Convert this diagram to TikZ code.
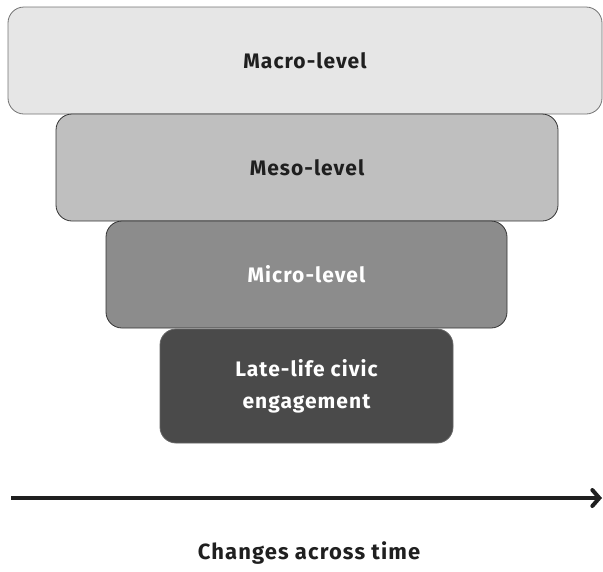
\documentclass[tikz,border=0pt]{standalone}
\usepackage{fontspec}
\setmainfont{Fira Sans}[LetterSpace=5]
\usepackage{xcolor}
\usetikzlibrary{positioning,arrows.meta}

\definecolor{macrofill}{HTML}{E6E6E6}
\definecolor{mesofill}{HTML}{BFBFBF}
\definecolor{microfill}{HTML}{8C8C8C}
\definecolor{latefill}{HTML}{4A4A4A}

\begin{document}
\begin{tikzpicture}[
  x=1pt, y=-1pt,
  level/.style={rectangle, rounded corners=16pt, draw=black!80, line width=0.8pt,
    font=\bfseries\fontsize{21}{32}\selectfont, align=center, inner sep=0pt},
]
\useasboundingbox (0,0) rectangle (603,571);

% Levels, outermost first
\node[level, draw=black!55, fill=macrofill, text=black!88, minimum width=594pt, minimum height=107pt] (macro) at (305,60.5) {Macro-level};
\node[level, fill=mesofill, text=black!88, minimum width=502pt, minimum height=107pt] (meso) at (307,167.5) {Meso-level};
\node[level, fill=microfill, text=white, minimum width=401pt, minimum height=107pt] (micro) at (306.5,274.5) {Micro-level};
\node[level, fill=latefill, draw=black!60, text=white, minimum width=293pt, minimum height=114pt] (late) at (306.5,386) {Late-life civic\\engagement};

% Time axis
\coordinate (tstart) at (11,498);
\coordinate (tend) at (602,498);
\draw[-{Straight Barb[length=7pt, width=16pt, line width=4pt, line cap=round]}, line width=4pt, color=black!88] (tstart) -- (tend);
\node[font=\bfseries\fontsize{22}{27}\selectfont, color=black!88] (tlabel) at (309,553) {Changes across time};

\end{tikzpicture}
\end{document}
